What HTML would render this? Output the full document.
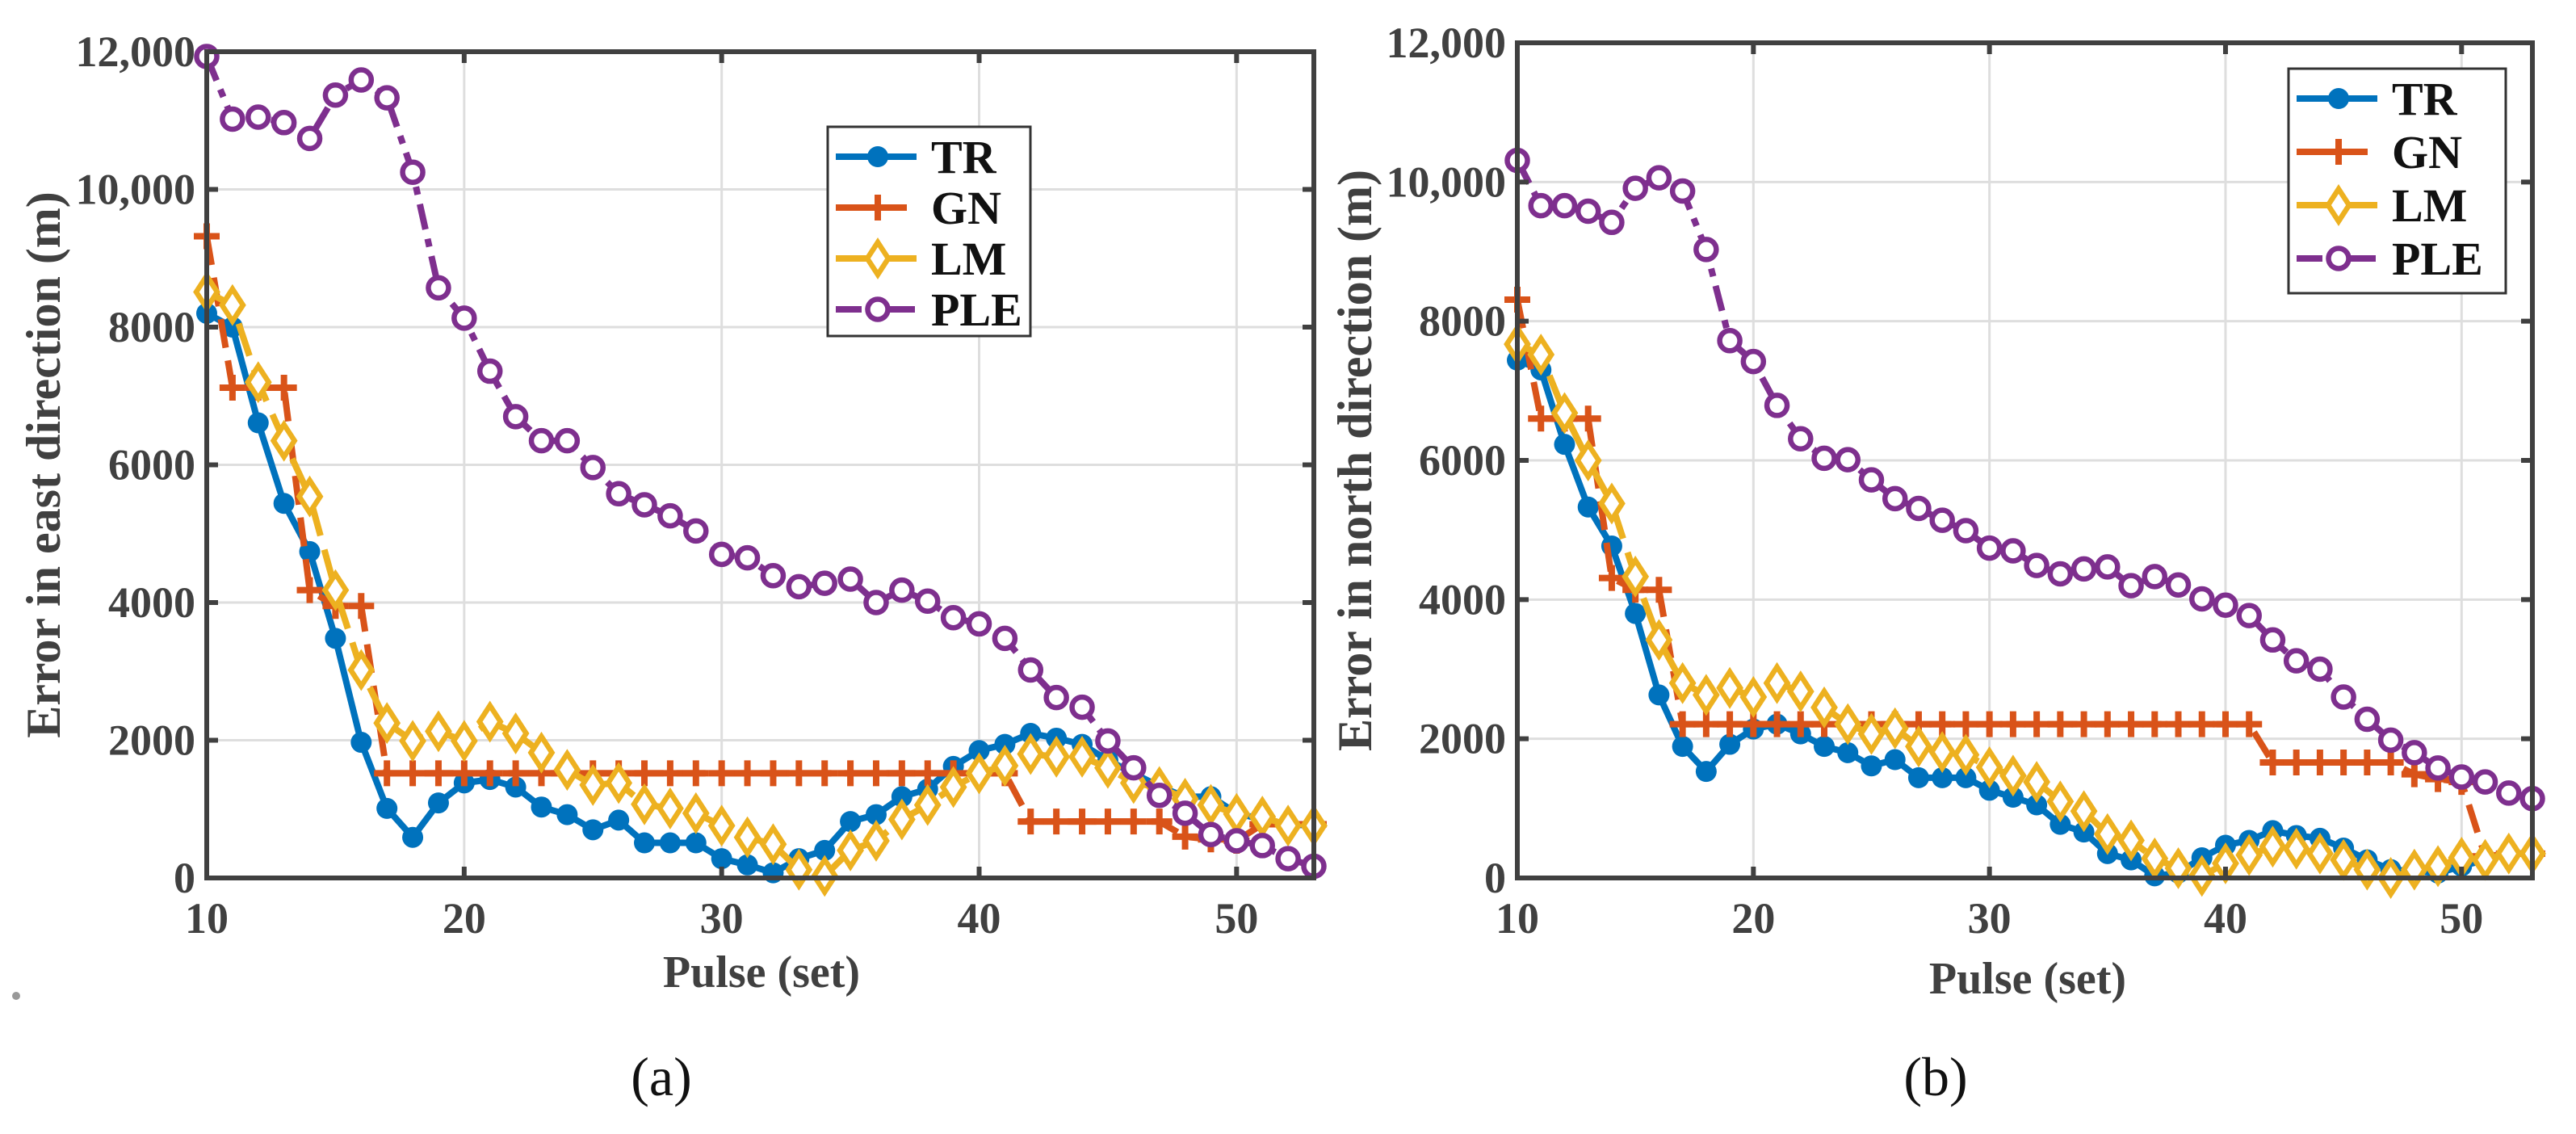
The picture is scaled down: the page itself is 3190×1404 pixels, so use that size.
<!DOCTYPE html>
<html><head><meta charset="utf-8"><style>
html,body{margin:0;padding:0;background:#fff;}
svg{display:block;font-family:"Liberation Serif",serif;}
</style></head><body>
<svg id="chart" width="3190" height="1404" viewBox="0 0 3190 1404" xmlns="http://www.w3.org/2000/svg">
<circle cx="20" cy="1233" r="5" fill="#999"/>
<text x="819" y="1356" font-size="68" text-anchor="middle" fill="#111">(a)</text>
<text x="2397" y="1356" font-size="68" text-anchor="middle" fill="#111">(b)</text>
</svg>
<script>
const pulses = [10,11,12,13,14,15,16,17,18,19,20,21,22,23,24,25,26,27,28,29,30,31,32,33,34,35,36,37,38,39,40,41,42,43,44,45,46,47,48,49,50,51,52,53];
const xTicks = [10,20,30,40,50];
const yTicks = [0,2000,4000,6000,8000,10000,12000];
const yTickLabels = ["0","2000","4000","6000","8000","10,000","12,000"];
const seriesNames = ["TR","GN","LM","PLE"];

const eastTR = [8200,8000,6610,5440,4740,3480,1970,1010,590,1090,1380,1430,1320,1030,920,700,840,510,510,510,280,190,75,280,400,820,920,1180,1290,1620,1850,1940,2100,2030,1940,1710,1520,1330,1180,1180,940,850,780,760];
const eastGN = [9320,7120,7120,7120,4180,3950,3950,1520,1520,1520,1520,1520,1520,1520,1520,1520,1520,1520,1520,1520,1520,1520,1520,1520,1520,1520,1520,1520,1520,1520,1520,1520,820,820,820,820,820,820,600,560,540,780,780,780];
const eastLM = [8510,8320,7200,6350,5540,4180,3020,2250,1990,2130,1990,2270,2100,1820,1570,1350,1380,1070,1010,940,760,590,490,120,30,400,540,850,1060,1320,1520,1630,1800,1760,1760,1600,1380,1320,1150,1060,930,890,760,760];
const eastPLE = [11930,11020,11050,10970,10740,11370,11590,11330,10250,8570,8130,7360,6700,6350,6350,5960,5580,5420,5260,5040,4700,4650,4390,4230,4280,4340,4000,4180,4020,3780,3690,3480,3020,2620,2480,1990,1600,1200,940,630,540,470,280,170];

const northTR = [7440,7300,6230,5330,4770,3800,2630,1890,1530,1920,2140,2210,2070,1890,1800,1610,1700,1440,1440,1440,1260,1160,1050,770,660,350,260,30,70,290,470,540,680,610,570,430,260,120,100,70,170,260,350,350];
const northGN = [8310,6600,6600,6600,4310,4140,4140,2210,2210,2210,2210,2210,2210,2210,2210,2210,2210,2210,2210,2210,2210,2210,2210,2210,2210,2210,2210,2210,2210,2210,2210,2210,1660,1660,1660,1660,1660,1660,1490,1420,1380,310,350,350];
const northLM = [7670,7520,6680,6000,5380,4330,3420,2800,2630,2730,2600,2800,2680,2450,2210,2070,2150,1890,1810,1770,1590,1470,1380,1100,960,630,540,280,140,30,210,330,450,420,350,260,120,0,120,170,290,260,350,350];
const northPLE = [10310,9660,9660,9580,9420,9910,10060,9870,9030,7720,7420,6790,6310,6030,6010,5720,5450,5310,5140,4990,4740,4700,4490,4370,4440,4470,4200,4330,4210,4010,3920,3770,3420,3120,3000,2600,2280,1980,1800,1580,1450,1380,1220,1140];

const NS = "http://www.w3.org/2000/svg";
const svg = document.getElementById('chart');
const COLORS = {TR:"#0072BD",GN:"#D95319",LM:"#EDB120",PLE:"#7E2F8E"};
const DASH = {TR:"",GN:"36 16",LM:"42 18",PLE:"32 12 10 12"};

function mk(tag, attrs, parent){
  const e = document.createElementNS(NS, tag);
  for (const k in attrs) e.setAttribute(k, attrs[k]);
  (parent||svg).appendChild(e);
  return e;
}

function marker(g, name, cx, cy){
  const c = COLORS[name];
  let m;
  if (name === "TR") {
    m = mk('circle', {cx:cx, cy:cy, r:13, fill:c}, g);
  } else if (name === "GN") {
    m = mk('path', {d:`M${cx-16},${cy}H${cx+16}M${cx},${cy-16}V${cy+16}`, stroke:c, 'stroke-width':8, fill:'none'}, g);
  } else if (name === "LM") {
    m = mk('path', {d:`M${cx},${cy-20}L${cx+13},${cy}L${cx},${cy+20}L${cx-13},${cy}Z`, stroke:c, 'stroke-width':6.5, fill:'#fff'}, g);
  } else {
    m = mk('circle', {cx:cx, cy:cy, r:12.5, fill:'#fff', stroke:c, 'stroke-width':6.5}, g);
  }
  
  
}

function drawPanel(p){
  const g = mk('g', {});
  
  
  const xs = v => p.L + (v - 10) / 43 * (p.R - p.L);
  const ys = v => p.B - v / 12000 * (p.B - p.T);
  xTicks.slice(1).forEach(t => {
    const l = mk('line', {x1:xs(t), x2:xs(t), y1:p.T, y2:p.B, stroke:'#dedede', 'stroke-width':3}, g);
    
    
  });
  yTicks.slice(1,-1).forEach(t => {
    const l = mk('line', {x1:p.L, x2:p.R, y1:ys(t), y2:ys(t), stroke:'#dedede', 'stroke-width':3}, g);
    
    
  });
  seriesNames.forEach((name, si) => {
    const vals = p.data[si];
    const pts = vals.map((v,i) => xs(pulses[i]).toFixed(1) + ',' + ys(v).toFixed(1)).join(' ');
    const sg = mk('g', {}, g);
    
    
    const pl = mk('polyline', {points:pts, fill:'none', stroke:COLORS[name], 'stroke-width':8, 'stroke-dasharray':DASH[name], 'stroke-linejoin':'round'}, sg);
    
    
    vals.forEach((v,i) => marker(sg, name, xs(pulses[i]), ys(v)));
  });
  const box = mk('rect', {x:p.L, y:p.T, width:p.R-p.L, height:p.B-p.T, fill:'none', stroke:'#404040', 'stroke-width':6}, g);
  
  
  xTicks.forEach(t => {
    const tk = mk('path', {d:`M${xs(t)},${p.B}v-14M${xs(t)},${p.T}v14`, stroke:'#404040', 'stroke-width':6}, g);
    
    
    const tx = mk('text', {x:xs(t), y:p.B+68, 'font-size':54, 'font-weight':'bold', 'text-anchor':'middle', fill:'#404040'}, g);
    tx.textContent = t;
    
    
  });
  yTicks.forEach((t,i) => {
    const tk = mk('path', {d:`M${p.L},${ys(t)}h14M${p.R},${ys(t)}h-14`, stroke:'#404040', 'stroke-width':6}, g);
    
    
    const tx = mk('text', {x:p.L-14, y:ys(t)+18, 'font-size':54, 'font-weight':'bold', 'text-anchor':'end', fill:'#404040'}, g);
    tx.textContent = yTickLabels[i];
    
    
  });
  const xt = mk('text', {x:p.xtX, y:p.xtY, 'font-size':56, 'font-weight':'bold', 'text-anchor':'middle', fill:'#404040'}, g);
  xt.textContent = 'Pulse (set)';
  
  
  const yt = mk('text', {x:0, y:0, transform:`translate(${p.ytX},${(p.T+p.B)/2}) rotate(-90)`, 'font-size':60, 'font-weight':'bold', 'text-anchor':'middle', fill:'#404040'}, g);
  yt.textContent = p.ytitle;
  
  
  const lg = mk('g', {}, g);
  
  
  const lr = mk('rect', {x:p.lx, y:p.ly, width:p.lw, height:p.lh, fill:'#fff', stroke:'#333', 'stroke-width':3}, lg);
  
  
  seriesNames.forEach((name,i) => {
    const y = p.ly + 37 + i * p.lstep;
    const eg = mk('g', {}, lg);
    
    
    const ll = mk('line', {x1:p.lx+10, x2:p.lx+110, y1:y, y2:y, stroke:COLORS[name], 'stroke-width':8, 'stroke-dasharray':DASH[name]}, eg);
    
    
    marker(eg, name, p.lx+62, y);
    const lt = mk('text', {x:p.lx+128, y:y+20, 'font-size':58, 'font-weight':'bold', fill:'#111'}, eg);
    lt.textContent = name;
    
    
  });
}

drawPanel({id:'panel-a-east', L:256, R:1627, T:64, B:1087, data:[eastTR,eastGN,eastLM,eastPLE],
  ytitle:'Error in east direction (m)', ytX:74, xtX:943, xtY:1222,
  lx:1025, ly:157, lw:251, lh:259, lstep:63});
drawPanel({id:'panel-b-north', L:1879, R:3136, T:53, B:1087, data:[northTR,northGN,northLM,northPLE],
  ytitle:'Error in north direction (m)', ytX:1698, xtX:2511, xtY:1230,
  lx:2834, ly:85, lw:269, lh:278, lstep:66});
</script>
</body></html>
